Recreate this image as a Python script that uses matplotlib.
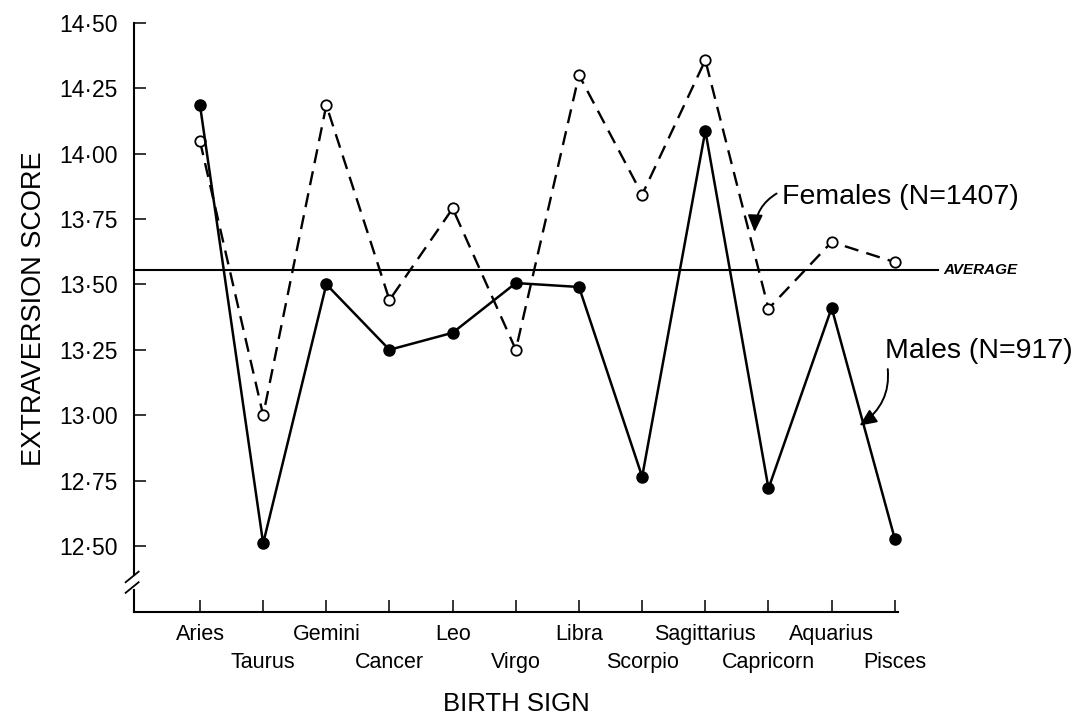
import matplotlib
matplotlib.use("Agg")
import matplotlib.pyplot as plt

plt.rcParams['font.family'] = ['Liberation Sans', 'DejaVu Sans']

signs = ['Aries', 'Taurus', 'Gemini', 'Cancer', 'Leo', 'Virgo', 'Libra',
         'Scorpio', 'Sagittarius', 'Capricorn', 'Aquarius', 'Pisces']
males = [14.185, 12.51, 13.50, 13.25, 13.315, 13.505, 13.49,
         12.765, 14.087, 12.72, 13.41, 12.527]
females = [14.047, 13.00, 14.185, 13.44, 13.79, 13.25, 14.30,
           13.843, 14.357, 13.407, 13.662, 13.585]
average = 13.553
yticks = [12.50, 12.75, 13.00, 13.25, 13.50, 13.75, 14.00, 14.25, 14.50]
ytick_labels = ['12\u00b750', '12\u00b775', '13\u00b700', '13\u00b725', '13\u00b750',
                '13\u00b775', '14\u00b700', '14\u00b725', '14\u00b750']

fig = plt.figure(figsize=(10.81, 7.17), dpi=100)
ax = fig.add_axes([0.124, 0.1469, 0.7067, 0.8214])

x = list(range(len(signs)))

# females: dashed with open circles
ax.plot(x, females, color='black', lw=1.7, dashes=(6, 3.5),
        marker='o', ms=7.5, mfc='white', mec='black', mew=1.3,
        clip_on=False, zorder=3)
# males: solid with filled dots
ax.plot(x, males, color='black', lw=1.8, marker='o', ms=8,
        mfc='black', mec='black', clip_on=False, zorder=4)

# average line running past the axis end
ax.plot([-1.044, 11.68], [average, average], color='black', lw=1.5,
        clip_on=False, zorder=2)
ax.text(11.76, average, 'AVERAGE', fontsize=11, fontstyle='italic',
        fontweight='bold', ha='left', va='center')

ax.set_xlim(-1.044, 11.05)
ax.set_ylim(12.249, 14.50)

ax.set_xticks(x)
ax.set_xticklabels(signs, fontsize=15.5)
for i, t in enumerate(ax.xaxis.get_major_ticks()):
    t.set_pad(9 if i % 2 == 0 else 29)
ax.set_yticks(yticks)
ax.set_yticklabels(ytick_labels, fontsize=16.5)

ax.tick_params(axis='both', direction='in', length=8.5, width=1.1, color='black')
ax.tick_params(axis='y', pad=12)

for s in ['top', 'right', 'left']:
    ax.spines[s].set_visible(False)
ax.spines['bottom'].set_linewidth(1.5)

# left axis line with a break
ax.plot([0, 0], [0.063, 1.0], transform=ax.transAxes, color='black',
        lw=1.5, clip_on=False)
ax.plot([0, 0], [0.0, 0.037], transform=ax.transAxes, color='black',
        lw=1.5, clip_on=False)
for yb in [0.041, 0.059]:
    ax.plot([-0.011, 0.006], [yb - 0.009, yb + 0.009], transform=ax.transAxes,
            color='black', lw=1.3, clip_on=False)

ax.annotate('Females (N=1407)', xy=(8.78, 13.70), xytext=(9.21, 13.833),
            fontsize=20.5, ha='left', va='center',
            arrowprops=dict(arrowstyle='-|>,head_length=0.5,head_width=0.22',
                            color='black', lw=1.4, shrinkA=2, shrinkB=0,
                            relpos=(0.0, 0.75),
                            connectionstyle='arc3,rad=0.3'))
ax.annotate('Males (N=917)', xy=(10.44, 12.96), xytext=(10.85, 13.247),
            fontsize=20.5, ha='left', va='center',
            arrowprops=dict(arrowstyle='-|>,head_length=0.5,head_width=0.22',
                            color='black', lw=1.4, shrinkA=2, shrinkB=0,
                            relpos=(0.0, 0.3),
                            connectionstyle='arc3,rad=-0.35'))

fig.text(0.4773, 0.0084, 'BIRTH SIGN', fontsize=18.5, ha='center', va='baseline')
fig.text(0.031, 0.5697, 'EXTRAVERSION SCORE', fontsize=19.5, rotation=90,
         ha='center', va='center')

fig.savefig('out.png', dpi=100)
